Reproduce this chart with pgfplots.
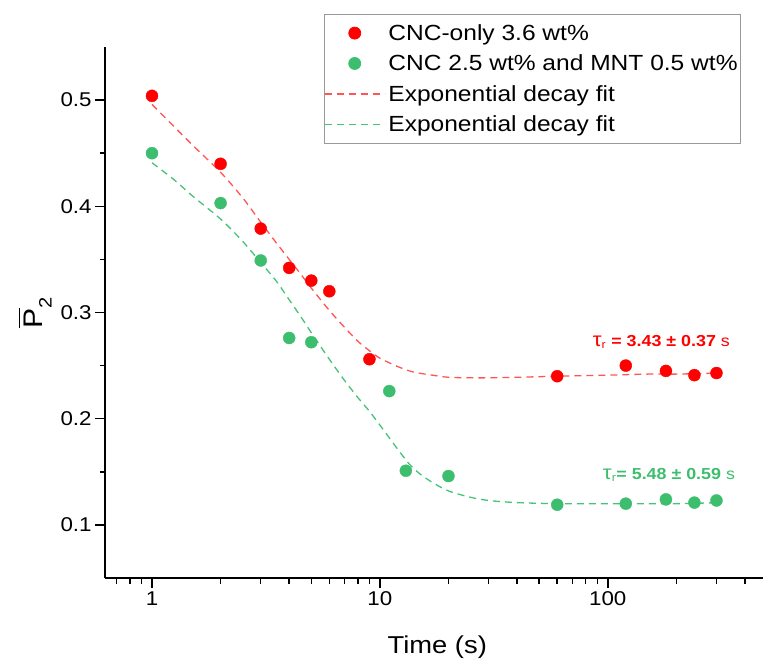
\documentclass[border=0pt]{standalone}
\usepackage{fontspec}
\setmainfont{Liberation Sans}[FakeStretch=1.12]
\usepackage{pgfplots}
\pgfplotsset{compat=1.18}
\definecolor{cred}{RGB}{255,0,0}
\definecolor{cgreen}{RGB}{60,190,110}
\definecolor{fred}{RGB}{255,85,85}
\definecolor{fgreen}{RGB}{70,195,120}
\pgfplotsset{
  dotlegend/.style={legend image code/.code={\draw[mark repeat=2,mark phase=2,##1] plot coordinates {(0bp,0bp) (30bp,0bp) (60bp,0bp)};}},
  linelegend/.style={legend image code/.code={\draw[##1] (0bp,0bp) -- (60bp,0bp);}},
}
\begin{document}
\begin{tikzpicture}
\path[use as bounding box] (0bp,0bp) rectangle (763bp,662bp);
\begin{axis}[
  at={(105bp,84bp)}, anchor=south west,
  scale only axis, width=658bp, height=531bp,
  xmode=log, xmin=0.622, xmax=480, ymin=0.05, ymax=0.55,
  axis lines*=left,
  axis line style={line width=1.6bp},
  xtick={1,10,100}, xticklabels={1,10,100},
  xminorticks=false,
  extra x ticks={0.7,0.8,0.9,2,3,4,5,6,7,8,9,20,30,40,50,60,70,80,90,200,300,400},
  extra x tick labels={},
  extra x tick style={major tick length=5.5bp, tick align=outside},
  ytick={0.1,0.2,0.3,0.4,0.5},
  minor ytick={0.15,0.25,0.35,0.45},
  yticklabels={0.1,0.2,0.3,0.4,0.5},
  tick align=outside,
  major tick length=10bp, minor tick length=5.5bp,
  every tick/.style={black, line width=1.5bp},
  ticklabel style={font=\fontsize{20}{24}\selectfont},
  /pgf/number format/assume math mode=true,
  xlabel={Time (s)},
  xlabel style={font=\fontsize{24.5}{28}\selectfont, at={(axis description cs:0.505,-0.13)}, anchor=center},
  ylabel={$\overline{\mbox{\fontsize{27}{28}\selectfont P\rule{0pt}{21.5bp}}}_{\mbox{\fontsize{18}{18}\selectfont 2}}$},
  ylabel style={at={(axis description cs:-0.106,0.50)}, anchor=center, rotate=0},
  legend style={draw=gray!80, line width=0.8bp, at={(0.9666,1.0621)}, anchor=north east,
    font=\fontsize{22}{24}\selectfont, inner xsep=0bp, inner ysep=9bp, row sep=11bp,
    cells={anchor=west}, nodes={inner xsep=3bp, inner ysep=1bp}},
  legend cell align=left,
  clip=false,
]
\addplot[only marks, mark=*, mark size=6bp, cred, mark options={draw=none, fill=cred}, dotlegend]
coordinates {(1,0.504) (2,0.440) (3,0.379) (4,0.342) (5,0.330) (6,0.320) (9,0.256)
 (60,0.240) (120,0.250) (180,0.245) (240,0.241) (300,0.243)};
\addlegendentry{CNC-only 3.6 wt\%}
\addplot[only marks, mark=*, mark size=6bp, cgreen, mark options={draw=none, fill=cgreen}, dotlegend]
coordinates {(1,0.450) (2,0.403) (3,0.349) (4,0.276) (5,0.272) (11,0.226) (13,0.151)
 (20,0.146) (60,0.119) (120,0.120) (180,0.124) (240,0.121) (300,0.123)};
\addlegendentry{CNC 2.5 wt\% and MNT 0.5 wt\%}
\addplot[fred, line width=1.3bp, dash pattern=on 7bp off 5bp, smooth, linelegend]
coordinates {(1,0.496) (1.25,0.475) (1.5,0.458) (2,0.432) (2.5,0.408) (3,0.385)
 (3.5,0.366) (4,0.350) (4.5,0.336) (5,0.323) (6,0.302) (7,0.286) (8,0.273) (9,0.264)
 (10,0.257) (12,0.249) (14,0.244) (17,0.241) (20,0.239) (25,0.2385) (30,0.2385)
 (40,0.239) (60,0.240) (100,0.241) (150,0.242) (200,0.242) (310,0.243)};
\addlegendentry{Exponential decay fit}
\addplot[fgreen, line width=1.3bp, dash pattern=on 7bp off 5bp, smooth, linelegend]
coordinates {(1,0.441) (1.25,0.425) (1.5,0.410) (2,0.388) (2.5,0.367) (3,0.347)
 (3.5,0.330) (4,0.312) (4.5,0.296) (5,0.281) (6,0.256) (7,0.236) (8,0.220) (9,0.207)
 (10,0.194) (11,0.182) (12,0.171) (13.5,0.157) (15,0.148) (17,0.140) (20,0.132)
 (25,0.126) (30,0.123) (40,0.121) (60,0.120) (100,0.120) (200,0.120) (310,0.121)};
\addlegendentry{Exponential decay fit}
\node[anchor=west, text=cred, inner sep=0pt, font=\fontsize{16}{20}\selectfont] at (axis cs:85.9,0.2723)
 {{\fontsize{20}{20}\selectfont τ}\textsubscript{r}\textbf{ = 3.43 ± 0.37} s};
\node[anchor=west, text=cgreen, inner sep=0pt, font=\fontsize{16}{20}\selectfont] at (axis cs:95.1,0.1472)
 {{\fontsize{20}{20}\selectfont τ}\textsubscript{r}\textbf{= 5.48 ± 0.59} s};
\end{axis}
\end{tikzpicture}
\end{document}
